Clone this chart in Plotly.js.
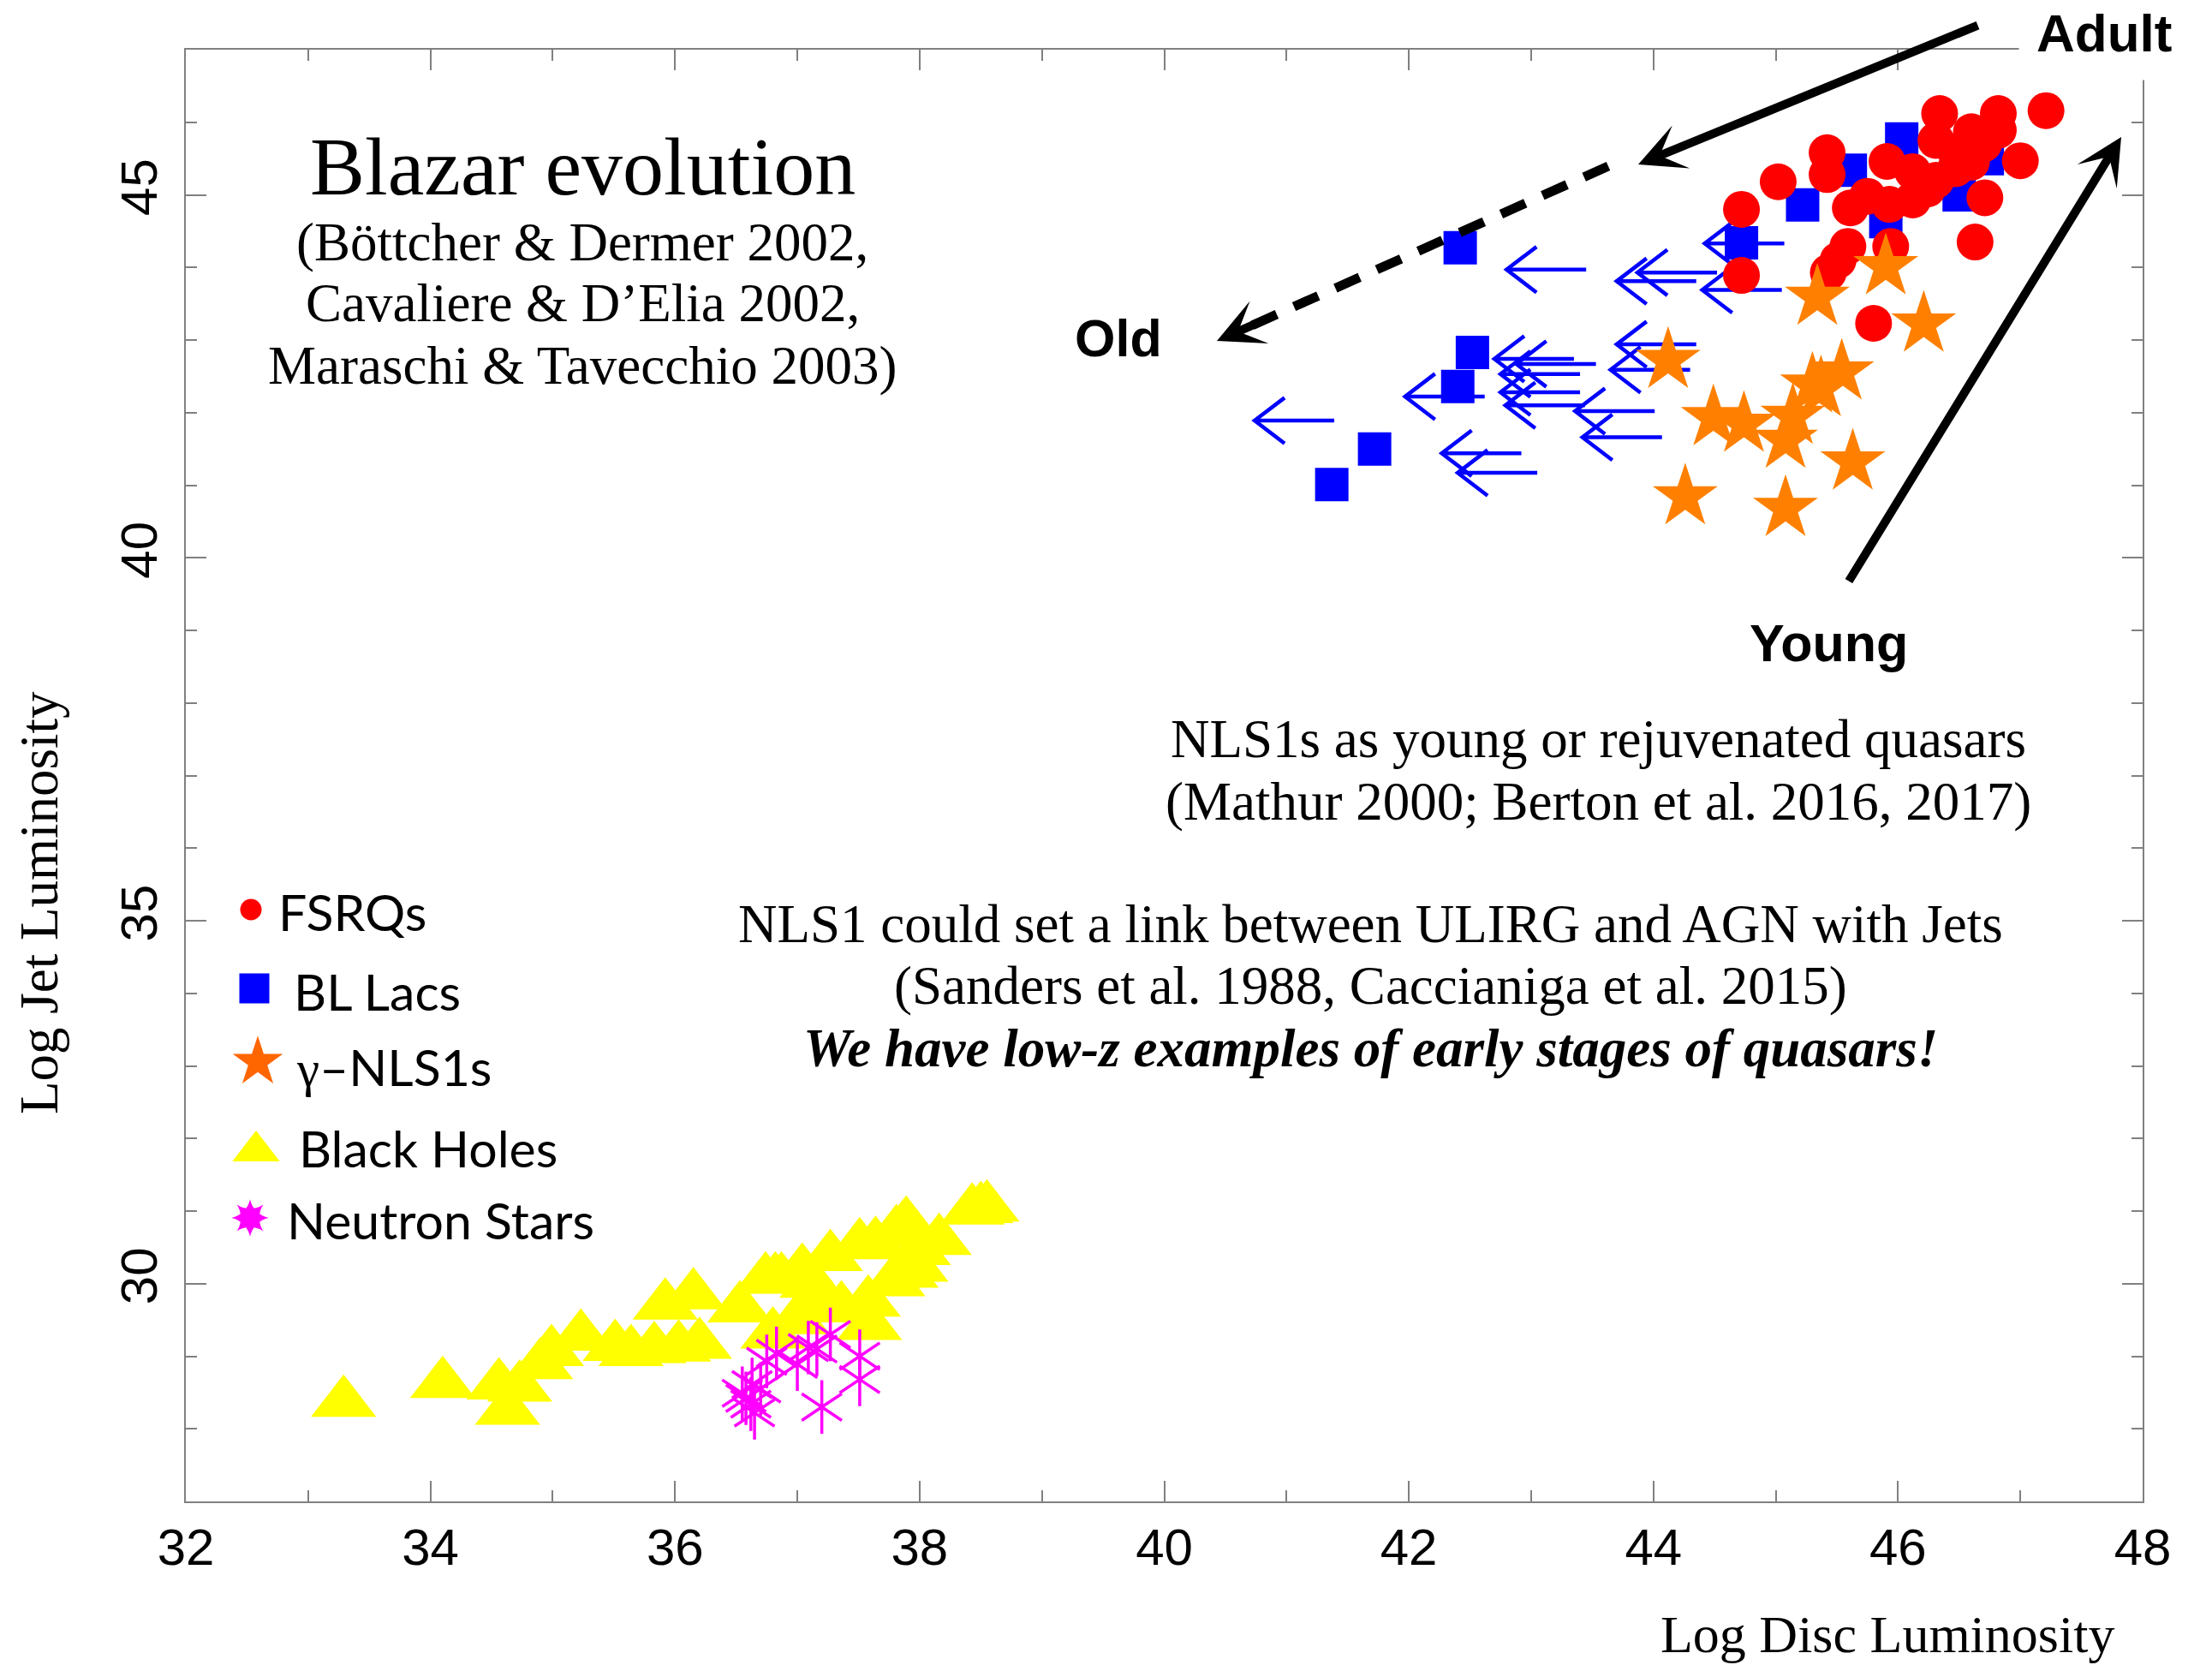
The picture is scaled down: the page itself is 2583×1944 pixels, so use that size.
<!DOCTYPE html>
<html><head><meta charset="utf-8">
<script src="https://cdn.plot.ly/plotly-3.0.1.min.js"></script>
<style>html,body{margin:0;padding:0;background:#fff}#chart{width:2583px;height:1944px}</style>
</head><body><div id="chart"></div>
<script>
// ---------------- data (log luminosities) ----------------
const fsrqX = [46.34,46.82,47.21,46.60,46.82,46.31,47.00,45.42,45.42,45.02,44.72,45.91,46.12,45.61,45.93,46.12,46.71,46.63,45.59,45.51,45.43,45.94,44.72,45.80,46.47,46.47,46.31,46.24,45.75,46.60,46.70];
const fsrqY = [46.12,46.12,46.16,45.87,45.89,45.75,45.47,45.58,45.28,45.18,44.80,45.46,45.32,44.82,44.87,44.93,44.96,44.35,44.29,44.10,43.93,44.29,43.89,43.23,45.60,45.36,45.20,45.08,44.98,45.45,45.70];

const bllacX = [46.03,45.61,45.22,45.90,46.50,46.73,44.72,42.42,42.52,42.40,41.72,41.37];
const bllacY = [45.77,45.34,44.86,44.63,45.00,45.50,44.34,44.27,42.83,42.36,41.50,41.01];

// BL Lac upper limits on disc luminosity (value = start of the left-pointing arrow)
const bllacLimX = [43.45,44.35,44.52,44.35,44.30,43.35,43.53,43.40,43.40,43.44,44.01,44.07,42.62,41.39,42.92,43.05,45.07,45.05];
const bllacLimY = [43.97,43.81,43.93,42.94,42.59,42.74,42.67,42.53,42.28,42.10,42.02,41.66,42.22,41.89,41.44,41.17,44.33,43.69];

const nls1X = [44.12,44.49,44.74,44.26,45.08,45.63,45.54,45.30,45.37,45.14,45.08,45.34,45.90,46.21];
const nls1Y = [42.72,41.93,41.84,40.84,40.68,41.32,42.56,42.38,42.33,41.95,41.62,43.59,44.01,43.22];

const bhX = [33.29,34.10,34.56,34.63,34.73,34.90,34.99,35.23,35.51,35.64,35.83,35.92,36.15,36.03,36.20,36.53,36.74,36.82,36.87,37.04,37.12,37.27,37.51,37.64,37.81,37.89,38.16,38.43,38.50,38.55,37.59,37.36,37.17,37.58,37.78,37.89,37.97,37.99,36.80,37.00];
const bhY = [28.36,28.62,28.60,28.25,28.57,28.88,29.06,29.27,29.13,29.06,29.10,29.70,29.84,29.12,29.16,29.66,30.06,30.06,30.06,30.18,30.00,30.37,30.53,30.55,30.71,30.83,30.59,31.01,31.03,31.05,29.42,29.66,29.74,29.74,30.02,30.14,30.22,30.45,29.30,29.50];

const nsX = [36.55,36.58,36.62,36.65,36.63,36.70,36.75,36.83,37.00,37.09,37.16,37.27,37.20,37.51,37.51];
const nsY = [28.49,28.42,28.34,28.22,28.61,28.55,28.93,29.04,28.89,29.12,29.10,29.30,28.30,29.00,28.68];

const legendNames = ['FSRQs','BL Lacs','<span style="font-family:Liberation Serif">γ</span>–NLS1s','Black Holes','Neutron Stars'];

// ---------------- layout helpers ----------------
const W = 2583, H = 1944;
const PL = 217, PR = 2502, PT = 58, PB = 1753;
const px = v => (v - PL) / (PR - PL);
const py = v => (PB - v) / (PB - PT);

const SERIF = 'Liberation Serif, Times New Roman, serif';
const SANS = 'Liberation Sans, Arial, sans-serif';
const LEGF = 'Lato, Carlito, Calibri, sans-serif';

// upper-limit arrow glyph size (data units)
const ARR_LEN = 0.651, ARR_DX = 0.245, ARR_DY = 0.315;
const limLineX = [], limLineY = [];
bllacLimX.forEach((xv, i) => {
  const yv = bllacLimY[i], tip = xv - ARR_LEN;
  limLineX.push(xv, tip, null, tip + ARR_DX, tip, tip + ARR_DX, null);
  limLineY.push(yv, yv, null, yv + ARR_DY, yv, yv - ARR_DY, null);
});

const traces = [
  {type:'scatter', mode:'markers', x:bllacX, y:bllacY, name:'BL Lacs',
   marker:{symbol:'square', size:39, color:'#0000ff', line:{width:0}}},
  {type:'scatter', mode:'lines', x:limLineX, y:limLineY, name:'BL Lac limits',
   line:{color:'#0000ff', width:4.5}, connectgaps:false},
  {type:'scatter', mode:'markers', x:fsrqX, y:fsrqY, name:'FSRQs',
   marker:{symbol:'circle', size:43, color:'#ff0000', line:{width:0}}},
  {type:'scatter', mode:'markers', x:nls1X, y:nls1Y, name:'γ-NLS1s',
   marker:{symbol:'star', size:57, color:'#ff8000', line:{width:0}}},
  {type:'scatter', mode:'markers', x:bhX, y:bhY, name:'Black Holes',
   marker:{symbol:'triangle-up', size:66, color:'#ffff00', line:{width:0}}},
  {type:'scatter', mode:'markers', x:nsX, y:nsY, name:'Neutron Stars',
   marker:{symbol:'y-up-open', size:39, color:'#ff00ff', line:{color:'#ff00ff', width:3.5}}},
  {type:'scatter', mode:'markers', x:nsX, y:nsY, name:'Neutron Stars',
   marker:{symbol:'y-down-open', size:39, color:'#ff00ff', line:{color:'#ff00ff', width:3.5}}},
];

// legend glyphs drawn on a hidden 0..1 overlay axis
const legGlyphs = [
  {x:[px(293)], y:[py(1062)], symbol:'circle', size:25, color:'#ff0000'},
  {x:[px(297)], y:[py(1154)], symbol:'square', size:35, color:'#0000ff'},
  {x:[px(301)], y:[py(1240)], symbol:'star', size:44, color:'#ff6600'},
  {x:[px(299)], y:[py(1344)], symbol:'triangle-up', size:48, color:'#ffff00'},
  {x:[px(292)], y:[py(1422)], symbol:'star-square', size:28, color:'#ff00ff', angle:0},
  {x:[px(292)], y:[py(1422)], symbol:'star-square', size:28, color:'#ff00ff', angle:45},
];
legGlyphs.forEach(g => traces.push({type:'scatter', mode:'markers', x:g.x, y:g.y, xaxis:'x2', yaxis:'y2',
  marker:{symbol:g.symbol, size:g.size, color:g.color, angle:g.angle||0, line:{width:0}}}));

const legTextPos = [[323,1064],[341,1157],[344,1245],[347,1340],[333,1424]];

const ann = [];
function txt(t, x, y, size, fam, opts) {
  ann.push(Object.assign({text:t, xref:'paper', yref:'paper', x:px(x), y:py(y), showarrow:false,
    xanchor:'center', yanchor:'middle', font:{family:fam, size:size, color:'#000'}}, opts||{}));
}
// title block
txt('Blazar evolution', 680, 194, 96, SERIF);
txt('(Böttcher &amp; Dermer 2002,', 680, 283, 63, SERIF);
txt('Cavaliere &amp; D’Elia 2002,', 680, 354, 63, SERIF);
txt('Maraschi &amp; Tavecchio 2003)', 680, 427, 63, SERIF);
// NLS1 texts
txt('NLS1s as young or rejuvenated quasars', 1866, 863, 63, SERIF);
txt('(Mathur 2000; Berton et al. 2016, 2017)', 1866, 936, 63, SERIF);
txt('NLS1 could set a link between ULIRG and AGN with Jets', 1600, 1079, 63, SERIF);
txt('(Sanders et al. 1988, Caccianiga et al. 2015)', 1600, 1151, 63, SERIF);
txt('<b><i>We have low-z examples of early stages of quasars!</i></b>', 1600, 1224, 63, SERIF);
// stage labels
txt('<b>Old</b>', 1306, 395, 61, SANS);
txt('<b>Young</b>', 2135, 751, 61, SANS);
txt('<b>Adult</b>', 2457, 38, 62, SANS, {bgcolor:'#ffffff', borderpad:20});
// axis titles
txt('Log Jet Luminosity', 46, 1054, 63, SERIF, {textangle:-90});
txt('Log Disc Luminosity', 2204, 1944, 62, SERIF, {yanchor:'bottom'});
// legend labels
legendNames.forEach((n, i) => txt(n, legTextPos[i][0], legTextPos[i][1], 59, LEGF, {xanchor:'left'}));

// arrows
function arrow(hx, hy, tx, ty, w, size) {
  ann.push({text:'', xref:'paper', yref:'paper', x:px(hx), y:py(hy), ax:tx-hx, ay:ty-hy,
    showarrow:true, arrowhead:3, arrowwidth:w, arrowsize:size, arrowcolor:'#000'});
}
arrow(1913, 192, 2311, 29, 10, 0.9);   // Adult -> Old (solid)
arrow(2477, 160, 2158, 680, 10, 0.9);  // Young -> Adult
arrow(1421, 398, 1471, 376, 10, 0.9);  // head of dashed arrow

const shapes = [
  {type:'line', xref:'paper', yref:'paper', x0:px(1878), y0:py(194), x1:px(1462), y1:py(380),
   line:{color:'#000', width:11, dash:'31px,22px'}}
];

const axisCommon = {
  showline:true, linecolor:'#808080', linewidth:2, mirror:'ticks',
  ticks:'inside', ticklen:24, tickwidth:2, tickcolor:'#808080',
  showgrid:false, zeroline:false,
  tickfont:{family:SANS, size:60, color:'#000'},
};

const layout = {
  width:W, height:H, margin:{l:PL, r:W-PR, t:PT, b:H-PB, pad:0},
  paper_bgcolor:'#ffffff', plot_bgcolor:'#ffffff', showlegend:false,
  xaxis:Object.assign({}, axisCommon, {range:[32,48], tick0:32, dtick:2,
    minor:{dtick:1, ticks:'inside', ticklen:13, tickwidth:2, tickcolor:'#808080'}}),
  yaxis:Object.assign({}, axisCommon, {range:[27,47], tick0:0, dtick:5, tickangle:-90, ticklabelstandoff:8,
    minor:{dtick:1, ticks:'inside', ticklen:13, tickwidth:2, tickcolor:'#808080'}}),
  xaxis2:{overlaying:'x', anchor:'y2', range:[0,1], visible:false, fixedrange:true},
  yaxis2:{overlaying:'y', anchor:'x2', range:[0,1], visible:false, fixedrange:true},
  annotations:ann, shapes:shapes,
};

Plotly.newPlot('chart', traces, layout, {staticPlot:true});
</script></body></html>
